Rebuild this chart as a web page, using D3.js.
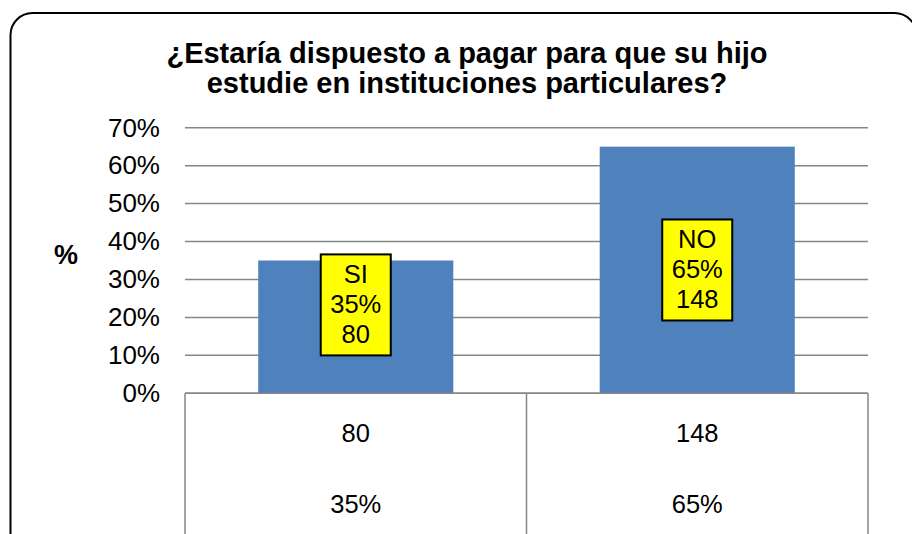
<!DOCTYPE html>
<html>
<head>
<meta charset="utf-8">
<script src="https://cdn.jsdelivr.net/npm/d3@7"></script>
<style>
  body { margin: 0; background: #fff; }
  text { font-family: "Liberation Sans", Arial, sans-serif; fill: #000; }
</style>
</head>
<body>
<svg id="chart" width="912" height="534"></svg>
<script>
// data
var categories = ['SI', 'NO'];
var percents = [0.35, 0.65];
var counts = [80, 148];
var yTicks = [0, 0.1, 0.2, 0.3, 0.4, 0.5, 0.6, 0.7];
var titleLines = ['¿Estaría dispuesto a pagar para que su hijo', 'estudie en instituciones particulares?'];

var svg = d3.select('#chart');

// layout
var plot = {l: 185, r: 868, t: 127.7, b: 393.3};
var labelShift = [-22, 0];   // vertical nudge of the yellow boxes

// outer rounded frame (runs off the right / bottom edge)
svg.append('rect')
    .attr('x', 10.5).attr('y', 13)
    .attr('width', 906).attr('height', 560)
    .attr('rx', 22).attr('ry', 22)
    .attr('fill', '#fff')
    .attr('stroke', '#000')
    .attr('stroke-width', 2);

var xScale = d3.scaleBand().domain(categories).range([plot.l, plot.r]).paddingInner(0.4287).paddingOuter(0.2144);
var bandScale = d3.scaleBand().domain(categories).range([plot.l, plot.r]);
var yScale = d3.scaleLinear().domain([0, 0.7]).range([plot.b, plot.t]);

// grid lines
svg.append('g')
    .selectAll('line')
    .data(yTicks)
    .join('line')
    .attr('x1', plot.l).attr('x2', plot.r)
    .attr('y1', d => yScale(d)).attr('y2', d => yScale(d))
    .attr('stroke', '#868686')
    .attr('stroke-width', 1.5);

// y axis labels
var yAxis = d3.axisLeft(yScale).tickValues(yTicks).tickFormat(d3.format('.0%')).tickSize(0).tickPadding(25);
var yG = svg.append('g').attr('transform', 'translate(' + plot.l + ',0)').call(yAxis);
yG.select('.domain').remove();
yG.selectAll('text')
    .style('font-family', '"Liberation Sans", Arial, sans-serif')
    .style('font-size', '26px')
    .attr('fill', '#000');

// bars
svg.append('g')
    .selectAll('rect')
    .data(percents)
    .join('rect')
    .attr('x', (d, i) => xScale(categories[i]))
    .attr('y', d => yScale(d))
    .attr('width', xScale.bandwidth())
    .attr('height', d => plot.b - yScale(d))
    .attr('fill', '#4F81BD');

// data table below the axis
var tableG = svg.append('g');
tableG.append('line')
    .attr('x1', plot.l).attr('x2', plot.r)
    .attr('y1', plot.b).attr('y2', plot.b)
    .attr('stroke', '#868686').attr('stroke-width', 1.5);
var dividers = categories.map(c => bandScale(c)).concat([plot.r]);
tableG.selectAll('line.div')
    .data(dividers)
    .join('line')
    .attr('class', 'div')
    .attr('x1', d => d).attr('x2', d => d)
    .attr('y1', plot.b).attr('y2', 540)
    .attr('stroke', '#868686').attr('stroke-width', 1.5);

tableG.selectAll('text.cnt')
    .data(counts)
    .join('text')
    .attr('class', 'cnt')
    .attr('x', (d, i) => bandScale(categories[i]) + bandScale.bandwidth() / 2)
    .attr('y', 441.5)
    .attr('text-anchor', 'middle')
    .style('font-size', '25.5px')
    .text(d => d);

tableG.selectAll('text.pct')
    .data(percents)
    .join('text')
    .attr('class', 'pct')
    .attr('x', (d, i) => bandScale(categories[i]) + bandScale.bandwidth() / 2)
    .attr('y', 513)
    .attr('text-anchor', 'middle')
    .style('font-size', '25.5px')
    .text(d => d3.format('.0%')(d));

// yellow data labels
var boxW = 70, boxH = 101;
var labels = svg.append('g')
    .selectAll('g')
    .data(percents)
    .join('g')
    .attr('transform', (d, i) => {
        var cx = xScale(categories[i]) + xScale.bandwidth() / 2;
        var cy = yScale(d / 2) + labelShift[i];
        return 'translate(' + cx + ',' + cy + ')';
    });
labels.append('rect')
    .attr('x', -boxW / 2).attr('y', -boxH / 2)
    .attr('width', boxW).attr('height', boxH)
    .attr('fill', '#FFFF00')
    .attr('stroke', '#000')
    .attr('stroke-width', 2);
labels.append('text')
    .attr('text-anchor', 'middle')
    .style('font-size', '25.5px')
    .selectAll('tspan')
    .data((d, i) => [categories[i], d3.format('.0%')(d), counts[i]])
    .join('tspan')
    .attr('x', 0)
    .attr('y', (d, j) => -21.5 + j * 30)
    .text(d => d);

// title
svg.append('text')
    .attr('text-anchor', 'middle')
    .style('font-size', '29px')
    .style('font-weight', 'bold')
    .selectAll('tspan')
    .data(titleLines)
    .join('tspan')
    .attr('x', 467)
    .attr('y', (d, i) => 63 + i * 30)
    .text(d => d);

// y axis title
svg.append('text')
    .attr('x', 66).attr('y', 264)
    .attr('text-anchor', 'middle')
    .style('font-size', '27px')
    .style('font-weight', 'bold')
    .text('%');
</script>
</body>
</html>
